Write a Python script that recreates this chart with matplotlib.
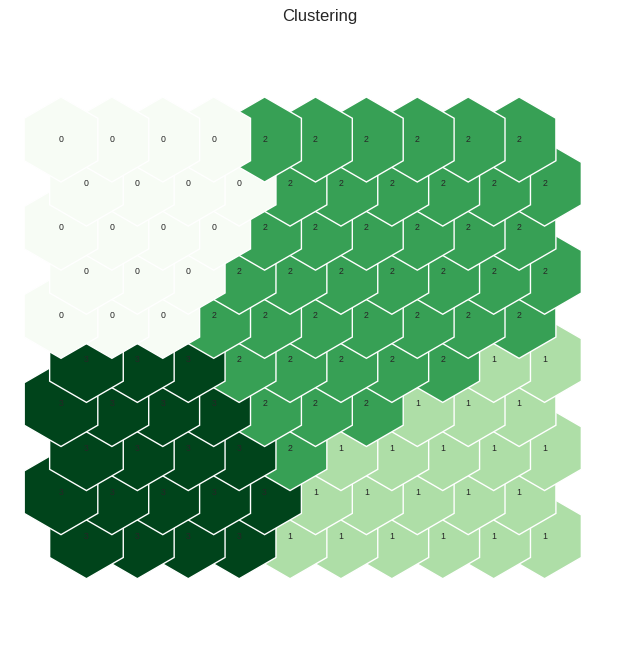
import numpy as np
import matplotlib.pyplot as plt
from matplotlib.patches import RegularPolygon

plt.rcParams['font.family'] = ['Liberation Sans', 'DejaVu Sans']

# cluster label of each node, rows from top to bottom
clusters = [
    [0, 0, 0, 0, 2, 2, 2, 2, 2, 2],
    [0, 0, 0, 0, 2, 2, 2, 2, 2, 2],
    [0, 0, 0, 0, 2, 2, 2, 2, 2, 2],
    [0, 0, 0, 2, 2, 2, 2, 2, 2, 2],
    [0, 0, 0, 2, 2, 2, 2, 2, 2, 2],
    [3, 3, 3, 2, 2, 2, 2, 2, 1, 1],
    [3, 3, 3, 3, 2, 2, 2, 1, 1, 1],
    [3, 3, 3, 3, 2, 1, 1, 1, 1, 1],
    [3, 3, 3, 3, 3, 1, 1, 1, 1, 1],
    [3, 3, 3, 3, 1, 1, 1, 1, 1, 1],
]
n_clusters = 4

grid = np.array(clusters)
n_rows, n_cols = grid.shape
cmap = plt.get_cmap('Greens')

fig = plt.figure(figsize=(6.4, 6.56), dpi=100)
ax = fig.add_axes([0, 0, 1, 1])

unit = 50.9  # pixels per grid step
radius = 0.835

# bottom rows first, right to left, so the top-left cells end up on top
for i in reversed(range(n_rows)):
    for j in reversed(range(n_cols)):
        x = j + 0.5 * (i % 2)
        y = -i * np.sqrt(3) / 2
        c = grid[i, j]
        hexagon = RegularPolygon((x, y), numVertices=6, radius=radius,
                                 facecolor=cmap(c / (n_clusters - 1)),
                                 edgecolor='white', lw=1)
        ax.add_patch(hexagon)
        ax.text(x, y, str(c), ha='center', va='center', fontsize=6.3,
                color='#262626')

ax.set_xlim(-61 / unit, (640 - 61) / unit)
ax.set_ylim(-(656 - 139.5) / unit, 139.5 / unit)
ax.axis('off')

fig.text(0.5, 1 - 16 / 656, 'Clustering', ha='center', va='center',
         fontsize=12, color='#262626')

fig.savefig('out.png', dpi=100)
